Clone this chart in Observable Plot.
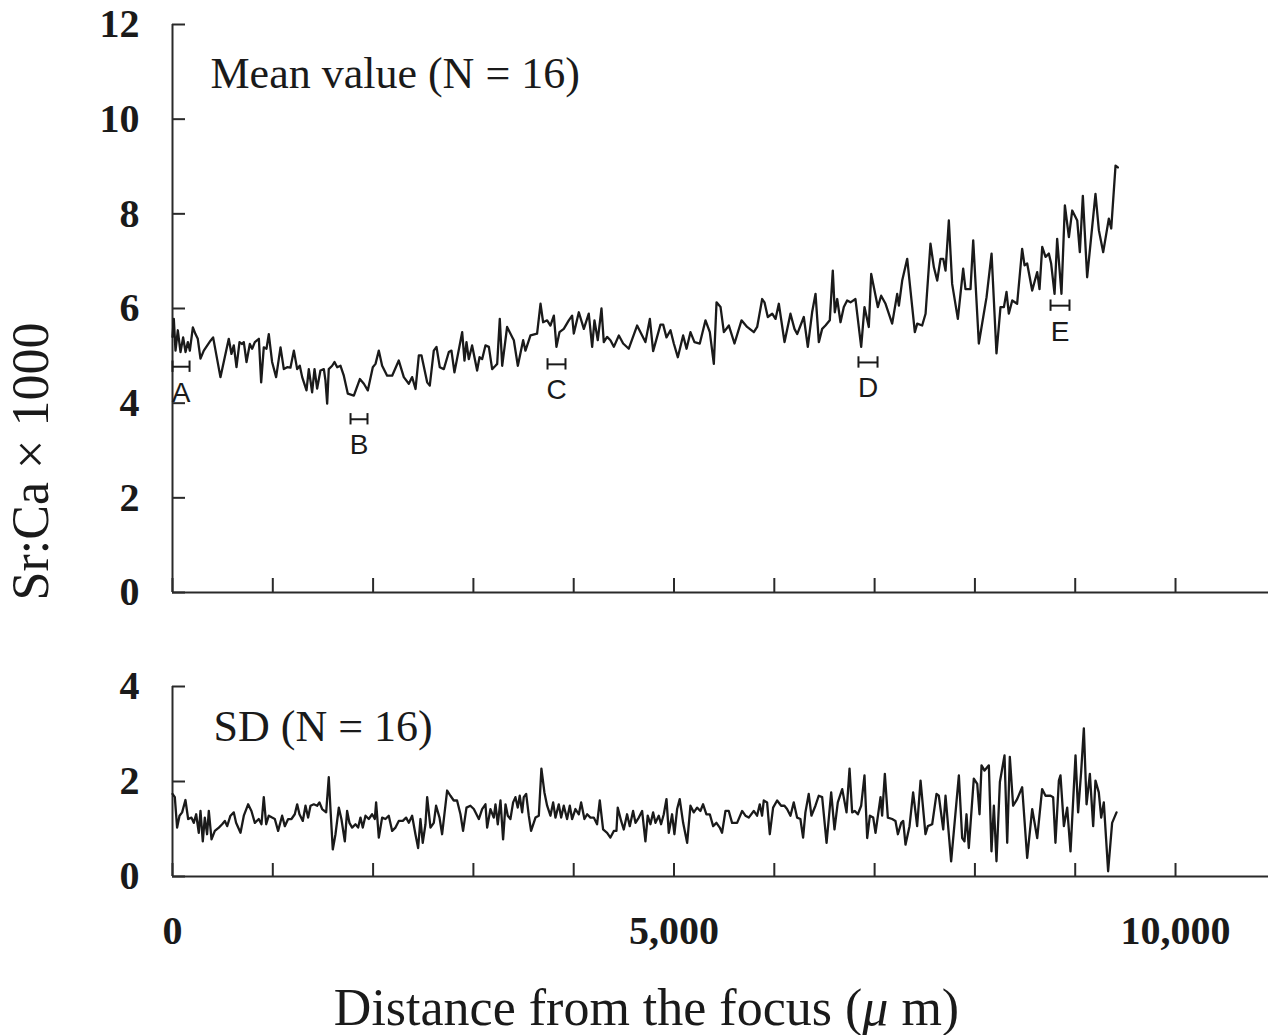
<!DOCTYPE html>
<html>
<head>
<meta charset="utf-8">
<script src="https://cdn.jsdelivr.net/npm/d3@7"></script>
<script src="https://cdn.jsdelivr.net/npm/@observablehq/plot@0.6"></script>
<style>
  body { margin: 0; background: #fff; }
  #chart { width: 1268px; }
  #chart svg { display: block; }
</style>
</head>
<body>
<div id="chart"></div>
<script>
// ---------- DATA ----------
// Mean Sr:Ca x 1000 along the transect (distance from the focus, µm)
const meanDistance = [
  0,13,30,53,80,106,130,153,173,203,
  229,252,279,312,379,405,478,561,588,611,
  638,668,694,711,738,771,794,821,861,884,
  910,937,960,993,1033,1077,1110,1143,1176,1210,
  1243,1269,1293,1336,1359,1392,1416,1442,1475,1509,
  1525,1542,1558,1592,1615,1642,1675,1708,1748,1808,
  1868,1908,1947,1997,2024,2057,2090,2140,2190,2256,
  2306,2356,
  2389,2423,2456,2482,2539,2565,2605,2632,2665,2705,
  2755,2781,2811,2888,2911,2931,2954,2987,3037,3061,
  3087,3120,3154,3187,3220,3237,3263,3287,3336,3386,
  3403,3443,3496,3519,3569,3635,3669,3695,3735,3768,
  3802,3828,3858,3901,3951,3984,4001,4051,4101,4150,
  4184,4207,4240,4277,4300,4333,4366,4400,4450,4493,
  4549,4632,4715,4759,
  4792,4865,4892,4925,4965,4998,5038,5091,5125,5164,
  5204,5257,5314,5357,5397,5424,5464,5497,5547,5603,
  5673,5729,5796,5829,5879,5902,5935,5979,6012,6045,
  6102,6161,6201,6228,6294,6334,6377,6411,6444,6477,
  6510,6553,6583,6603,6627,6660,6693,6726,6760,6809,
  6866,6899,6942,6966,7032,7065,
  7109,7175,7225,7242,7275,7325,7375,7401,7425,7474,
  7508,7557,7591,7624,7657,7684,7707,7740,7773,7830,
  7883,7906,7956,7983,8039,8116,8166,8215,8255,8289,
  8315,8338,8372,8421,8471,8495,8521,8571,8621,8644,
  8671,8704,8737,8760,8794,8820,8863,8897,8937,8970,
  9020,9046,9076,9119,9202,9236,9279,9335,9359,9402,
  9425
];
const meanValue = [
  5.40,5.78,5.11,5.54,5.08,5.39,5.08,5.29,5.11,5.60,
  5.46,5.36,4.94,5.11,5.32,5.39,4.55,5.36,5.04,5.22,
  4.76,5.29,5.25,5.29,4.87,5.25,5.15,5.29,5.36,4.44,
  5.18,5.15,5.46,4.87,4.55,5.18,4.72,4.76,4.75,5.11,
  4.72,4.79,4.55,4.27,4.72,4.23,4.72,4.31,4.69,4.72,
  4.48,3.99,4.72,4.79,4.87,4.76,4.79,4.58,4.20,4.16,
  4.51,4.41,4.27,4.76,4.83,5.11,4.79,4.58,4.58,4.90,
  4.55,4.41,
  4.55,4.30,5.01,5.01,4.44,4.37,5.11,5.19,4.76,4.72,
  5.08,5.11,4.65,5.50,4.90,5.29,4.93,5.22,4.69,4.97,
  4.93,5.22,5.19,4.72,4.79,4.83,5.78,4.79,5.61,5.40,
  5.33,4.79,5.33,5.11,5.43,5.47,6.10,5.71,5.75,5.64,
  5.85,5.19,5.50,5.57,5.75,5.85,5.47,5.92,5.57,5.89,
  5.19,5.75,5.33,6.00,5.29,5.40,5.33,5.19,5.43,5.26,
  5.15,5.64,5.29,5.78,
  5.10,5.66,5.66,5.39,5.54,5.26,4.97,5.43,5.15,5.50,
  5.29,5.26,5.75,5.50,4.83,6.13,6.03,5.50,5.64,5.26,
  5.75,5.61,5.50,5.61,6.20,6.13,5.82,5.89,5.78,6.10,
  5.29,5.89,5.57,5.46,5.82,5.19,5.92,6.31,5.29,5.57,
  5.64,5.75,6.80,5.92,6.20,5.71,6.03,6.17,6.13,6.20,
  5.19,6.03,5.61,6.73,6.03,6.27,
  6.10,5.68,6.31,6.06,6.59,7.05,6.03,5.50,5.68,5.64,
  5.89,7.37,6.87,6.59,7.05,7.05,6.80,7.86,6.52,5.78,
  6.84,6.41,6.41,7.44,5.26,6.24,7.16,5.05,6.03,6.03,
  6.35,5.89,6.17,6.10,7.26,6.91,6.95,6.38,6.77,6.41,
  7.30,7.09,7.16,6.95,6.31,7.47,6.31,8.18,7.51,8.07,
  7.86,7.19,8.38,6.66,8.42,7.65,7.19,7.90,7.69,9.02,
  8.98
];

// SD of Sr:Ca x 1000 along the transect
const sdDistance = [
  0,23,46,70,96,129,156,189,212,236,
  262,279,302,322,345,362,389,422,462,495,
  522,545,578,611,634,678,711,754,787,821,
  860,887,910,934,960,993,1020,1053,1093,1120,
  1153,1186,1219,1243,1266,1299,1326,1352,1376,1409,
  1442,1465,1492,1532,1558,1575,1598,1625,1658,1684,
  1718,1741,1764,1791,1824,1851,1874,1897,1924,1957,
  1990,2017,2030,2057,2090,2123,2156,2190,2223,2256,
  2296,2329,2356,2389,2422,2449,2472,2495,2522,2539,
  2572,2605,2628,2662,2688,2738,2771,2804,2837,2871,
  2897,2931,2970,3004,3054,3087,3120,3137,3170,3203,
  3220,3243,3270,3296,3320,3343,3369,3396,3419,3442,
  3462,3486,3502,3526,3552,3575,3619,3652,3678,3708,
  3735,3768,3795,3818,3851,3875,3901,3934,3961,3984,
  4017,4051,4074,4107,4134,4167,4200,4233,4260,4293,
  4333,4366,4400,4426,4439,4473,4499,4532,4559,4592,
  4616,4649,4682,4715,4738,4765,4792,4815,4848,4871,
  4898,4925,4948,4981,5004,5031,5057,5091,5131,5164,
  5197,5230,5263,5290,5323,5357,5390,5423,5456,5479,
  5513,5546,5579,5629,5679,5712,5745,5795,5828,5855,
  5878,5895,5928,5955,5988,6028,6068,6101,6127,6161,
  6194,6227,6260,6287,6310,6343,6370,6410,6443,
  6477,6521,6567,6600,6633,6677,6720,6750,6776,6803,
  6833,6866,6899,6926,6953,6986,7009,7059,7075,7102,
  7132,7175,7208,7232,7265,7285,7308,7348,7384,7424,
  7458,7507,7531,7574,7617,7640,7684,7707,7763,7840,
  7873,7896,7916,7939,7989,8023,8046,8066,8096,8139,
  8165,8189,8215,8249,8295,8322,8348,8381,8421,8471,
  8521,8571,8621,8670,8704,8754,8780,8803,8837,8853,
  8887,8920,8953,9003,9029,9059,9086,9113,9146,9179,
  9202,9235,9259,9285,9328,9368,9412
];
const sdValue = [
  1.74,1.67,1.03,1.28,1.35,1.61,1.21,1.24,1.13,1.31,
  0.92,1.38,0.74,1.24,0.89,1.38,0.78,0.96,1.03,1.10,
  1.17,1.06,1.28,1.35,1.13,0.92,1.28,1.52,1.38,1.13,
  1.21,1.10,1.67,1.10,1.28,1.24,1.21,0.96,1.28,1.06,
  1.21,1.21,1.31,1.52,1.31,1.17,1.49,1.24,1.49,1.52,
  1.49,1.56,1.42,1.35,2.09,1.42,0.57,0.89,1.45,1.21,
  0.74,1.38,1.13,1.03,1.10,1.03,1.24,1.03,1.28,1.21,
  1.31,1.21,1.56,0.82,1.24,1.21,1.28,0.96,1.03,1.17,
  1.17,1.24,1.13,1.28,0.89,0.60,1.21,0.71,1.10,1.67,
  1.03,1.13,1.49,1.24,0.89,1.81,1.70,1.60,1.60,1.31,
  0.96,1.45,1.49,1.42,1.21,1.42,1.52,1.03,1.42,1.24,
  1.52,1.10,1.60,0.78,1.52,1.28,1.21,1.56,1.67,1.45,
  1.70,1.35,1.67,1.74,1.28,0.96,1.24,1.28,2.27,1.77,
  1.49,1.28,1.56,1.24,1.52,1.24,1.49,1.21,1.49,1.21,
  1.42,1.31,1.56,1.21,1.31,1.24,1.24,1.10,1.60,0.99,
  0.92,0.82,0.96,0.96,1.45,1.17,0.99,1.31,1.06,1.38,
  1.13,1.24,1.38,0.74,1.28,1.10,1.35,1.13,1.28,1.10,
  1.31,1.63,0.92,1.31,0.89,1.42,1.63,1.13,0.71,1.49,
  1.35,1.45,1.38,1.52,1.31,1.31,1.06,1.13,1.03,0.92,
  1.38,1.38,1.13,1.13,1.38,1.28,1.24,1.38,1.28,1.52,
  1.28,1.60,1.56,0.89,1.45,1.60,1.49,1.49,1.42,1.28,
  1.56,1.24,1.21,0.82,1.35,1.74,1.28,1.49,1.70,
  1.67,0.71,1.77,0.99,1.56,1.84,1.35,2.27,1.35,1.38,
  1.31,1.49,2.13,0.81,1.28,1.24,0.92,1.67,1.28,2.16,
  1.24,1.21,1.17,0.89,1.13,1.17,0.67,1.06,1.77,1.06,
  2.02,0.89,1.06,1.10,1.74,1.70,0.99,1.70,0.32,2.13,
  0.81,0.74,1.31,0.60,2.06,1.95,1.31,2.34,2.23,2.34,
  0.53,1.49,0.32,1.99,2.55,0.71,2.52,1.49,1.63,1.88,
  0.39,1.42,0.81,1.84,1.70,1.70,1.67,0.71,2.02,2.13,
  1.06,1.45,0.53,2.55,1.35,2.20,3.12,1.52,2.16,1.06,
  2.02,1.77,1.24,1.56,0.11,1.13,1.35
];

// Marked intervals A–E (distance range, µm, and Sr:Ca level)
const markerLabels = ["A", "B", "C", "D", "E"];
const markerStart  = [0, 1775, 3739, 6839, 8754];
const markerEnd    = [170, 1944, 3918, 7029, 8943];
const markerValue  = [4.77, 3.66, 4.82, 4.86, 6.06];

// Axis ticks / labels
const xTicks = [0, 1000, 2000, 3000, 4000, 5000, 6000, 7000, 8000, 9000, 10000];
const xTickLabels = [0, 5000, 10000];
const yTicksMean = [0, 2, 4, 6, 8, 10, 12];
const yTicksSD = [0, 2, 4];
const xDomain = [0, 10927];
const meanDomain = [0, 12];
const sdDomain = [0, 4];

const meanTitle = "Mean value (N = 16)";
const sdTitle = "SD (N = 16)";
const yTitle = "Sr:Ca × 1000";
const xTitle = "Distance from the focus (μ m)";

// ---------- TABLES ----------
const n1 = Math.min(meanDistance.length, meanValue.length);
const meanData = d3.range(n1).map(i => ({distance: meanDistance[i], value: meanValue[i]}));
const n2 = Math.min(sdDistance.length, sdValue.length);
const sdData = d3.range(n2).map(i => ({distance: sdDistance[i], value: sdValue[i]}));
const markers = markerLabels.map((label, i) => ({label, start: markerStart[i], end: markerEnd[i], value: markerValue[i]}));

// ---------- STYLE ----------
const serif = "'Liberation Serif', 'Times New Roman', serif";
const sans = "'Liberation Sans', Arial, sans-serif";
const ink = "#1a1a1a";
const axisInk = "#2a2a2a";
const tickFont = {fontFamily: serif, fontSize: 40, fontWeight: "bold", fill: ink};

// ---------- TOP PANEL ----------
const topPlot = Plot.plot({
  width: 1268,
  height: 640,
  marginLeft: 172,
  marginRight: 0,
  marginTop: 24,
  marginBottom: 48,
  style: {fontFamily: serif, color: ink, background: "#fff", overflow: "visible"},
  x: {domain: xDomain, label: null},
  y: {domain: meanDomain, label: null},
  marks: [
    Plot.axisY(yTicksMean, {tickSize: -13, strokeWidth: 2, stroke: axisInk, fill: "none"}),
    Plot.axisY(yTicksMean, {tickSize: 0, tickPadding: 33, label: null, ...tickFont}),
    Plot.axisX(xTicks, {tickSize: -14, strokeWidth: 2, stroke: axisInk, fill: "none"}),
    Plot.ruleX([0], {stroke: axisInk, strokeWidth: 2}),
    Plot.ruleY([0], {stroke: axisInk, strokeWidth: 2}),
    Plot.line(meanData, {x: "distance", y: "value", stroke: ink, strokeWidth: 2.3}),
    Plot.ruleY(markers, {x1: "start", x2: "end", y: "value", stroke: ink, strokeWidth: 2}),
    Plot.ruleX(markers, {x: "start", y1: d => d.value - 0.12, y2: d => d.value + 0.12, stroke: ink, strokeWidth: 2}),
    Plot.ruleX(markers, {x: "end", y1: d => d.value - 0.12, y2: d => d.value + 0.12, stroke: ink, strokeWidth: 2}),
    Plot.text(markers, {x: d => (d.start + d.end) / 2, y: "value", text: "label", dy: 26, fontFamily: sans, fontSize: 28, fill: ink}),
    Plot.text([meanTitle], {text: d => d, frameAnchor: "top-left", textAnchor: "start", lineAnchor: "middle", dx: 38, dy: 49, fontFamily: serif, fontSize: 44, fill: ink}),
    Plot.text([yTitle], {text: d => d, frameAnchor: "left", rotate: -90, textAnchor: "middle", lineAnchor: "middle", dx: -141, dy: 153, fontFamily: serif, fontSize: 52, fill: ink})
  ]
});

// ---------- BOTTOM PANEL ----------
const bottomPlot = Plot.plot({
  width: 1268,
  height: 395,
  marginLeft: 172,
  marginRight: 0,
  marginTop: 46,
  marginBottom: 159,
  style: {fontFamily: serif, color: ink, background: "#fff", overflow: "visible"},
  x: {domain: xDomain, label: null},
  y: {domain: sdDomain, label: null},
  marks: [
    Plot.axisY(yTicksSD, {tickSize: -13, strokeWidth: 2, stroke: axisInk, fill: "none"}),
    Plot.axisY(yTicksSD, {tickSize: 0, tickPadding: 33, label: null, ...tickFont}),
    Plot.axisX(xTicks, {tickSize: -13, strokeWidth: 2, stroke: axisInk, fill: "none"}),
    Plot.axisX(xTickLabels, {tickSize: 0, tickPadding: 39, tickFormat: d3.format(","), label: null, ...tickFont}),
    Plot.ruleX([0], {stroke: axisInk, strokeWidth: 2}),
    Plot.ruleY([0], {stroke: axisInk, strokeWidth: 2}),
    Plot.line(sdData, {x: "distance", y: "value", stroke: ink, strokeWidth: 2.3}),
    Plot.text([sdTitle], {text: d => d, frameAnchor: "top-left", textAnchor: "start", lineAnchor: "middle", dx: 41, dy: 40, fontFamily: serif, fontSize: 44, fill: ink}),
    Plot.text([xTitle], {text: d => d, frameAnchor: "bottom", textAnchor: "middle", lineAnchor: "middle", dx: -74, dy: 132, fontFamily: serif, fontSize: 52, fill: ink})
  ]
});

// italic µ in the axis title
d3.select(bottomPlot).selectAll("text").each(function () {
  const t = this.textContent;
  if (t === xTitle) {
    const i = t.indexOf("μ");
    const sel = d3.select(this);
    sel.text(null);
    sel.append("tspan").text(t.slice(0, i));
    sel.append("tspan").attr("font-style", "italic").text("μ");
    sel.append("tspan").text(t.slice(i + 1));
  }
});

const chart = document.getElementById("chart");
chart.append(topPlot, bottomPlot);
</script>
</body>
</html>
